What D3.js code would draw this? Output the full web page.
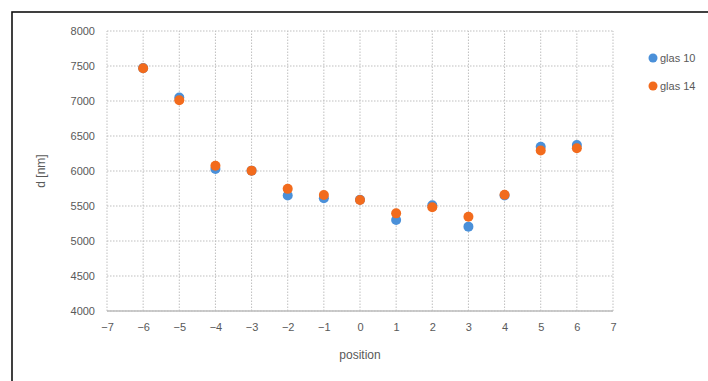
<!DOCTYPE html>
<html>
    <head>
        <script src="https://d3js.org/d3.v7.min.js"></script>
        <style>
            body { margin: 0; background: #fff; }
            text { font-family: 'Liberation Sans', Arial, sans-serif; fill: #595959; }
        </style>
    </head>
    <body>
        <svg id="chart" width="708" height="381"></svg>
        <script>
            var positions = [-6, -5, -4, -3, -2, -1, 0, 1, 2, 3, 4, 5, 6];
            var glas10 = [7470, 7050, 6030, 6005, 5650, 5610, 5590, 5300, 5510, 5205, 5650, 6345, 6370];
            var glas14 = [7467, 7010, 6075, 6005, 5745, 5657, 5586, 5395, 5482, 5347, 5660, 6292, 6325];
            var seriesNames = ['glas 10', 'glas 14'];
            var colors = ['#4a90d9', '#f26b1d'];
            var xTicks = d3.range(-7, 8);
            var yTicks = d3.range(4000, 8001, 500);

            var svg = d3.select('#chart');

            svg.append('rect')
                .attr('x', 12).attr('y', 12)
                .attr('width', 730).attr('height', 400)
                .attr('fill', 'none')
                .attr('stroke', '#111')
                .attr('stroke-width', 1.6);

            var x = d3.scaleLinear().domain([-7, 7]).range([107, 613]);
            var y = d3.scaleLinear().domain([4000, 8000]).range([311, 31]);

            // grid
            svg.append('g').selectAll('line')
                .data(yTicks).enter().append('line')
                .attr('x1', x(-7)).attr('x2', x(7))
                .attr('y1', (d) => y(d)).attr('y2', (d) => y(d))
                .attr('stroke', '#bfbfbf').attr('stroke-dasharray', '1.5,1.5');
            svg.append('g').selectAll('line')
                .data(xTicks).enter().append('line')
                .attr('x1', (d) => x(d)).attr('x2', (d) => x(d))
                .attr('y1', y(4000)).attr('y2', y(8000))
                .attr('stroke', '#bfbfbf').attr('stroke-dasharray', '1.5,1.5');
            svg.append('line')
                .attr('x1', x(-7)).attr('x2', x(7))
                .attr('y1', y(4000)).attr('y2', y(4000))
                .attr('stroke', '#bdbdbd').attr('stroke-width', 1.5);

            // axes
            var xAxis = svg.append('g')
                .attr('transform', 'translate(0,' + (y(4000) + 4) + ')')
                .call(d3.axisBottom(x).tickValues(xTicks).tickSize(0).tickPadding(8).tickFormat((d) => d < 0 ? '\u2212' + Math.abs(d) : d));
            xAxis.select('.domain').remove();
            xAxis.selectAll('text').style('font-size', '11px').attr('fill', '#595959');

            var yAxis = svg.append('g')
                .attr('transform', 'translate(' + (x(-7) - 12) + ',0)')
                .call(d3.axisLeft(y).tickValues(yTicks).tickSize(0).tickPadding(0).tickFormat(d3.format('d')));
            yAxis.select('.domain').remove();
            yAxis.selectAll('text').style('font-size', '11px').attr('fill', '#595959');

            svg.append('text')
                .attr('x', x(0)).attr('y', 359)
                .attr('text-anchor', 'middle')
                .style('font-size', '12px')
                .text('position');
            svg.append('text')
                .attr('transform', 'translate(45,' + y(6000) + ') rotate(-90)')
                .attr('text-anchor', 'middle')
                .style('font-size', '12px')
                .text('d [nm]');

            // points
            [glas10, glas14].forEach(function (vals, i) {
                svg.append('g').selectAll('circle')
                    .data(vals).enter().append('circle')
                    .attr('cx', (d, j) => x(positions[j]))
                    .attr('cy', (d) => y(d))
                    .attr('r', 5)
                    .attr('fill', colors[i]);
            });

            // legend
            var legend = svg.append('g').selectAll('g')
                .data(seriesNames).enter().append('g')
                .attr('transform', (d, i) => 'translate(653,' + (58 + i * 28) + ')');
            legend.append('circle').attr('r', 4.5).attr('fill', (d, i) => colors[i]);
            legend.append('text')
                .attr('x', 7).attr('dy', '0.35em')
                .style('font-size', '11px')
                .text((d) => d);
        </script>
    </body>
</html>
